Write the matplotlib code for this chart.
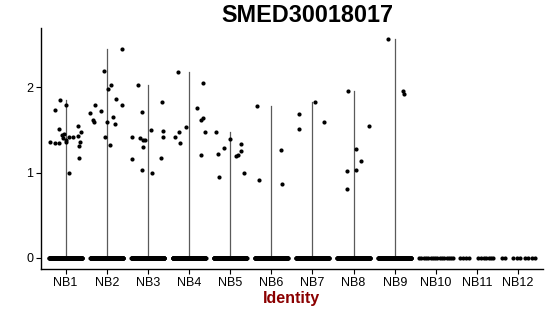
import numpy as np
import matplotlib
matplotlib.use("Agg")
import matplotlib.pyplot as plt

plt.rcParams['font.family'] = ['Liberation Sans', 'DejaVu Sans']

title = "SMED30018017"
xlabel = "Identity"
groups = ["NB1", "NB2", "NB3", "NB4", "NB5", "NB6", "NB7", "NB8", "NB9", "NB10", "NB11", "NB12"]
yticks = [0, 1, 2]

# non-zero expression values per identity
nb1_vals = [1.85, 1.79, 1.73, 1.51, 1.36, 1.35, 1.34, 1.44, 1.45, 1.40, 1.38, 1.36, 1.42, 1.42,
            1.55, 1.47, 1.43, 1.36, 1.31, 1.17, 0.99]
nb2_vals = [2.19, 2.44, 1.98, 2.02, 1.86, 1.79, 1.70, 1.61, 1.59, 1.79, 1.72, 1.59, 1.65, 1.57,
            1.42, 1.32]
nb3_vals = [2.02, 1.71, 1.83, 1.41, 1.40, 1.38, 1.38, 1.30, 1.50, 1.49, 1.42, 1.16, 1.17, 1.03, 0.99]
nb4_vals = [2.18, 2.05, 1.75, 1.62, 1.64, 1.53, 1.48, 1.42, 1.34, 1.48, 1.21]
nb5_vals = [1.48, 1.29, 1.39, 1.22, 1.33, 1.25, 1.19, 1.20, 0.95, 0.99]
nb6_vals = [1.78, 0.91, 1.26, 0.87]
nb7_vals = [1.69, 1.51, 1.83, 1.59]
nb8_vals = [1.95, 1.55, 1.28, 1.14, 1.03, 1.02, 0.81]
nb9_vals = [2.56, 1.95, 1.92]
nb10_vals = []
nb11_vals = []
nb12_vals = []

# horizontal jitter of those points
nb1_jit = [-0.14, 0.00, -0.27, -0.17, -0.38, -0.27, -0.17, -0.10, -0.05, -0.07, 0.01, 0.02, 0.07, 0.19,
           0.31, 0.38, 0.31, 0.36, 0.33, 0.32, 0.09]
nb2_jit = [-0.07, 0.36, 0.04, 0.10, 0.23, 0.36, -0.40, -0.34, -0.32, -0.28, -0.13, 0.01, 0.14, 0.19,
           -0.05, 0.07]
nb3_jit = [-0.24, -0.15, 0.35, -0.38, -0.19, -0.11, -0.07, -0.11, 0.08, 0.37, 0.36, -0.38, 0.32, -0.14, 0.09]
nb4_jit = [-0.27, 0.35, 0.20, 0.29, 0.35, -0.08, -0.24, -0.33, -0.22, 0.39, 0.29]
nb5_jit = [-0.34, -0.15, 0.00, -0.30, 0.27, 0.26, 0.14, 0.19, -0.27, 0.33]
nb6_jit = [-0.36, -0.31, 0.24, 0.27]
nb7_jit = [-0.32, -0.32, 0.07, 0.28]
nb8_jit = [-0.14, 0.37, 0.06, 0.18, 0.06, -0.16, -0.16]
nb9_jit = [-0.17, 0.20, 0.22]

# number of cells with zero expression
n_zero = [200, 200, 200, 200, 200, 200, 200, 200, 200, 16, 11, 9]
# sparse groups: jitter of zero points
nb10_zero_jit = [-0.42, -0.36, -0.30, -0.24, -0.19, -0.13, -0.08, -0.02, 0.03, 0.09, 0.14, 0.20, 0.26, 0.31, 0.36, 0.41]
nb11_zero_jit = [-0.41, -0.34, -0.28, -0.20, 0.03, 0.10, 0.17, 0.22, 0.28, 0.34, 0.39]
nb12_zero_jit = [-0.40, -0.32, -0.12, -0.04, 0.05, 0.16, 0.24, 0.34, 0.41]

vals = [nb1_vals, nb2_vals, nb3_vals, nb4_vals, nb5_vals, nb6_vals, nb7_vals, nb8_vals, nb9_vals,
        nb10_vals, nb11_vals, nb12_vals]
jits = [nb1_jit, nb2_jit, nb3_jit, nb4_jit, nb5_jit, nb6_jit, nb7_jit, nb8_jit, nb9_jit, [], [], []]
zero_jits = [None] * 9 + [nb10_zero_jit, nb11_zero_jit, nb12_zero_jit]

fig = plt.figure(figsize=(5.5, 3.16), dpi=100)
ax = fig.add_axes([0.0745, 0.149, 0.9125, 0.762])

for i, g in enumerate(groups):
    x0 = i + 1
    v = vals[i]
    if len(v):
        ax.plot([x0, x0], [0, max(v)], color="#5a5a5a", lw=0.9, zorder=1)
    zj = zero_jits[i]
    if zj is None:
        zj = np.linspace(-0.4, 0.4, n_zero[i])
    ax.scatter(x0 + np.asarray(zj), np.zeros(len(zj)), s=9, color="black", linewidths=0, zorder=2)
    if len(v):
        ax.scatter(x0 + np.asarray(jits[i]), v, s=9, color="black", linewidths=0, zorder=3)

ax.set_xlim(0.4, 12.6)
ax.set_ylim(-0.128, 2.69)
ax.set_xticks(range(1, len(groups) + 1))
ax.set_xticklabels(groups, fontsize=9)
ax.set_yticks(yticks)
ax.set_yticklabels([str(t) for t in yticks], fontsize=9)
for s in ["top", "right"]:
    ax.spines[s].set_visible(False)
for s in ["left", "bottom"]:
    ax.spines[s].set_linewidth(1.0)
ax.tick_params(direction="out", length=3.5, width=0.8, colors="black", pad=2)
ax.set_xlabel(xlabel, fontsize=11.5, fontweight="bold", color="#8B0000", labelpad=2)
fig.text(0.558, 0.951, title, fontsize=16.8, fontweight="bold", ha="center", va="center")

fig.savefig("out.png", dpi=100)
